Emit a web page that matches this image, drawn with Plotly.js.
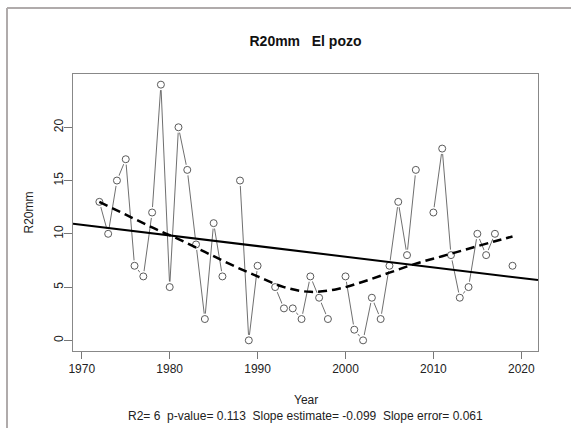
<!DOCTYPE html>
<html>
<head>
<meta charset="utf-8">
<script src="https://cdn.plot.ly/plotly-3.0.1.min.js"></script>
<style>html,body{margin:0;padding:0;background:#fff;}#chart{width:571px;height:428px;}</style>
</head>
<body>
<div id="chart"></div>
<script>
// Observed R20mm values per year (null = missing year)
const years = [1972,1973,1974,1975,1976,1977,1978,1979,1980,1981,1982,1983,1984,1985,1986,1987,1988,1989,1990,1991,1992,1993,1994,1995,1996,1997,1998,1999,2000,2001,2002,2003,2004,2005,2006,2007,2008,2009,2010,2011,2012,2013,2014,2015,2016,2017,2018,2019];
const values = [13,10,15,17,7,6,12,24,5,20,16,9,2,11,6,null,15,0,7,null,5,3,3,2,6,4,2,null,6,1,0,4,2,7,13,8,16,null,12,18,8,4,5,10,8,10,null,7];

// Smoothed (dashed) curve
const smoothYears = [1972,1975,1978,1981,1984,1987,1990,1993,1996,1999,2002,2005,2008,2011,2014,2017,2019];
const smoothValues = [13.0,11.8,10.6,9.5,8.3,7.1,6.0,5.0,4.55,4.8,5.5,6.35,7.2,7.9,8.6,9.3,9.75];

// Linear trend line (spans the plot)
const trendYears = [1969.0,2021.9];
const trendValues = [10.95,5.66];

// Tick labels
const xTicks = [1970,1980,1990,2000,2010,2020];
const yTicks = [0,5,10,15,20];

const titleText = "R20mm\u00a0\u00a0\u00a0El pozo";
const statsText = "R2= 6\u00a0\u00a0p-value= 0.113\u00a0\u00a0Slope estimate= -0.099\u00a0\u00a0Slope error= 0.061";

const FONT = "Liberation Sans, Arial, sans-serif";

const traces = [
  {x: years, y: values, type: 'scatter', mode: 'lines', connectgaps: false,
   line: {color: '#4a4a4a', width: 0.8}, hoverinfo: 'skip'},
  {x: years, y: values, type: 'scatter', mode: 'markers',
   marker: {symbol: 'circle', size: 11, color: '#ffffff', line: {width: 0}}, hoverinfo: 'skip'},
  {x: years, y: values, type: 'scatter', mode: 'markers',
   marker: {symbol: 'circle-open', size: 7, color: '#5a5a5a', line: {width: 1, color: '#5a5a5a'}}},
  {x: trendYears, y: trendValues, type: 'scatter', mode: 'lines',
   line: {color: '#000000', width: 2}},
  {x: smoothYears, y: smoothValues, type: 'scatter', mode: 'lines',
   line: {color: '#000000', width: 2.5, dash: '9px,5px', shape: 'spline'}}
];

const L = 73, R = 33, T = 74, B = 77, W = 571, H = 428;
const pw = W - L - R, ph = H - T - B;
const px = v => (v - L) / pw;
const py = v => (H - B - v) / ph;

const layout = {
  width: W, height: H,
  margin: {l: L, r: R, t: T, b: B, pad: 0},
  paper_bgcolor: '#ffffff', plot_bgcolor: '#ffffff',
  showlegend: false,
  font: {family: FONT, size: 12, color: '#222'},
  title: {text: '<b>' + titleText + '</b>', font: {family: FONT, size: 14, color: '#111'},
          xref: 'paper', x: 0.5, xanchor: 'center', yref: 'container', y: 1 - 41/428, yanchor: 'middle'},
  xaxis: {range: [1969.0, 2021.9], tickvals: xTicks, ticktext: xTicks.map(String),
          ticks: 'outside', ticklen: 7, tickcolor: '#777', tickwidth: 1,
          showline: true, mirror: true, linecolor: '#888', linewidth: 1,
          showgrid: false, zeroline: false, tickfont: {family: FONT, size: 12, color: '#222'}},
  yaxis: {range: [-1.0, 25.0], tickvals: yTicks, ticktext: yTicks.map(String), tickangle: -90,
          ticks: 'outside', ticklen: 8, tickcolor: '#777', tickwidth: 1, ticklabelstandoff: -4,
          showline: true, mirror: true, linecolor: '#888', linewidth: 1,
          showgrid: false, zeroline: false, tickfont: {family: FONT, size: 12, color: '#222'}},
  annotations: [
    {text: 'Year', xref: 'paper', yref: 'paper', x: 0.5, y: py(400), xanchor: 'center', yanchor: 'middle',
     showarrow: false, font: {family: FONT, size: 12, color: '#222'}},
    {text: statsText, xref: 'paper', yref: 'paper', x: 0.5, y: py(416), xanchor: 'center', yanchor: 'middle',
     showarrow: false, font: {family: FONT, size: 12, color: '#222'}},
    {text: 'R20mm', xref: 'paper', yref: 'paper', x: px(28), y: 0.5, xanchor: 'center', yanchor: 'middle',
     textangle: -90, showarrow: false, font: {family: FONT, size: 12, color: '#222'}}
  ],
  shapes: [
    {type: 'line', xref: 'paper', yref: 'paper', x0: px(7), x1: px(7), y0: py(430), y1: py(8),
     line: {color: '#b0abab', width: 2}},
    {type: 'line', xref: 'paper', yref: 'paper', x0: px(7), x1: px(575), y0: py(8), y1: py(8),
     line: {color: '#b0abab', width: 2}}
  ]
};

Plotly.newPlot('chart', traces, layout, {displayModeBar: false, staticPlot: true});
</script>
</body>
</html>
